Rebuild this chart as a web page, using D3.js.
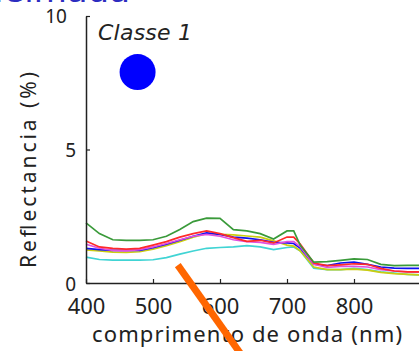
<!DOCTYPE html>
<html>
<head>
<meta charset="utf-8">
<script src="https://cdn.jsdelivr.net/npm/d3@7"></script>
<style>
  body { margin: 0; background: #fff; }
  svg { display: block; }
</style>
</head>
<body>
<div id="chart"></div>
<script>
// wavelengths (nm) and reflectance (%) per sample
const wavelengths = [400, 420, 440, 460, 480, 500, 520, 540, 560, 580, 600, 620, 640, 660, 680, 700, 710, 720, 740, 760, 780, 800, 820, 840, 860, 880, 900]

const greenSeries = [2.25, 1.85, 1.62, 1.6, 1.6, 1.62, 1.75, 2.0, 2.3, 2.43, 2.42, 2.0, 1.95, 1.85, 1.65, 1.95, 1.95, 1.4, 0.78, 0.8, 0.85, 0.9, 0.88, 0.7, 0.65, 0.66, 0.66]
const redSeries = [1.57, 1.35, 1.3, 1.27, 1.3, 1.42, 1.55, 1.72, 1.85, 1.95, 1.85, 1.7, 1.56, 1.6, 1.5, 1.72, 1.72, 1.45, 0.75, 0.65, 0.68, 0.72, 0.7, 0.55, 0.45, 0.42, 0.42]
const magentaSeries = [1.45, 1.3, 1.22, 1.2, 1.25, 1.35, 1.48, 1.62, 1.75, 1.82, 1.75, 1.62, 1.55, 1.52, 1.45, 1.55, 1.55, 1.35, 0.7, 0.58, 0.62, 0.62, 0.6, 0.5, 0.45, 0.42, 0.4]
const blueSeries = [1.3, 1.25, 1.22, 1.22, 1.22, 1.32, 1.45, 1.6, 1.75, 1.88, 1.82, 1.72, 1.68, 1.62, 1.52, 1.5, 1.48, 1.3, 0.7, 0.65, 0.75, 0.78, 0.7, 0.6, 0.56, 0.55, 0.55]
const yellowSeries = [1.24, 1.2, 1.16, 1.15, 1.17, 1.27, 1.4, 1.55, 1.72, 1.85, 1.82, 1.8, 1.76, 1.72, 1.58, 1.42, 1.38, 1.2, 0.6, 0.5, 0.5, 0.52, 0.48, 0.4, 0.35, 0.32, 0.3]
const cyanSeries = [0.97, 0.88, 0.86, 0.86, 0.86, 0.87, 0.95, 1.08, 1.2, 1.3, 1.33, 1.35, 1.4, 1.35, 1.25, 1.33, 1.35, 1.2, 0.55, 0.5, 0.5, 0.55, 0.5, 0.42, 0.37, 0.32, 0.3]

// drawn bottom-up so green ends on top
const drawOrder = [cyanSeries, yellowSeries, blueSeries, magentaSeries, redSeries, greenSeries]
const drawColors = ['#40d4d4', '#cccc10', '#1010f0', '#e050e0', '#ff2a2a', '#3a9a3a']

const xTicks = [400, 500, 600, 700, 800]
const yTicks = [0, 5, 10]

// class marker and the orange annotation stroke, in data units
const marker = { nm: 477, value: 7.9 }
const pointer = { nm1: 537, v1: 0.67, nm2: 635, v2: -2.8 }

const W = 419, H = 351
const svg = d3.select('#chart').append('svg')
  .attr('width', W).attr('height', H)

svg.append('rect').attr('width', W).attr('height', H).attr('fill', '#fff')

const x = d3.scaleLinear().domain([400, 900]).range([86, 421])
const y = d3.scaleLinear().domain([0, 10]).range([283, 16])

// cut-off heading at the very top
svg.append('text')
  .attr('x', 130).attr('y', 2)
  .attr('text-anchor', 'end')
  .attr('font-family', 'DejaVu Sans')
  .attr('font-size', '34px')
  .attr('fill', '#2c2cc0')
  .text('Queimada')

// lines
const line = d3.line()
  .x((d, i) => x(wavelengths[i]))
  .y(d => y(d))

drawOrder.forEach((s, i) => {
  svg.append('path')
    .datum(s)
    .attr('fill', 'none')
    .attr('stroke', drawColors[i])
    .attr('stroke-width', 1.7)
    .attr('d', line)
})

// axes (ticks point inward)
const xAxisCall = d3.axisBottom(x).tickValues(xTicks).tickSize(-4).tickSizeOuter(0).tickPadding(15)
const gx = svg.append('g')
  .attr('transform', `translate(0, ${y(0)})`)
  .call(xAxisCall)
gx.select('.domain').attr('stroke', '#222').attr('stroke-width', 1.5)
gx.selectAll('.tick line').attr('stroke', '#222').attr('stroke-width', 1.2)
gx.selectAll('text')
  .attr('font-family', 'Noto Sans')
  .attr('font-size', '22px')
  .attr('fill', '#222')

const yAxisCall = d3.axisLeft(y).tickValues(yTicks).tickSize(-4).tickSizeOuter(0)
const gy = svg.append('g')
  .attr('transform', `translate(${x(400)}, 0)`)
  .call(yAxisCall)
gy.select('.domain').attr('stroke', '#222').attr('stroke-width', 1.5)
gy.selectAll('.tick line').attr('stroke', '#222').attr('stroke-width', 1.2)
gy.selectAll('text')
  .attr('font-family', 'Noto Sans')
  .attr('font-size', '19px')
  .attr('fill', '#222')
  .attr('x', d => d === 10 ? -19 : -10)
  .attr('dy', d => d === 0 ? '0.4em' : '0.35em')

// axis labels
svg.append('text')
  .attr('x', 247).attr('y', 342)
  .attr('text-anchor', 'middle')
  .attr('font-family', 'Noto Sans')
  .attr('font-size', '22px')
  .attr('fill', '#222')
  .attr('textLength', 310)
  .text('comprimento de onda (nm)')

svg.append('text')
  .attr('transform', 'translate(36, 170) rotate(-90)')
  .attr('text-anchor', 'middle')
  .attr('font-family', 'Noto Sans')
  .attr('font-size', '21px')
  .attr('fill', '#222')
  .attr('textLength', 196)
  .text('Reflectancia (%)')

// class title + marker
svg.append('text')
  .attr('x', 98).attr('y', 40)
  .attr('font-family', 'DejaVu Sans')
  .attr('font-style', 'italic')
  .attr('font-size', '22px')
  .attr('fill', '#222')
  .attr('textLength', 94)
  .text('Classe 1')

svg.append('circle')
  .attr('cx', x(marker.nm)).attr('cy', y(marker.value))
  .attr('r', 18)
  .attr('fill', '#0000ff')

// orange pointer stroke
svg.append('line')
  .attr('x1', x(pointer.nm1)).attr('y1', y(pointer.v1))
  .attr('x2', x(pointer.nm2)).attr('y2', y(pointer.v2))
  .attr('stroke', '#ff6600')
  .attr('stroke-width', 7)
</script>
</body>
</html>
